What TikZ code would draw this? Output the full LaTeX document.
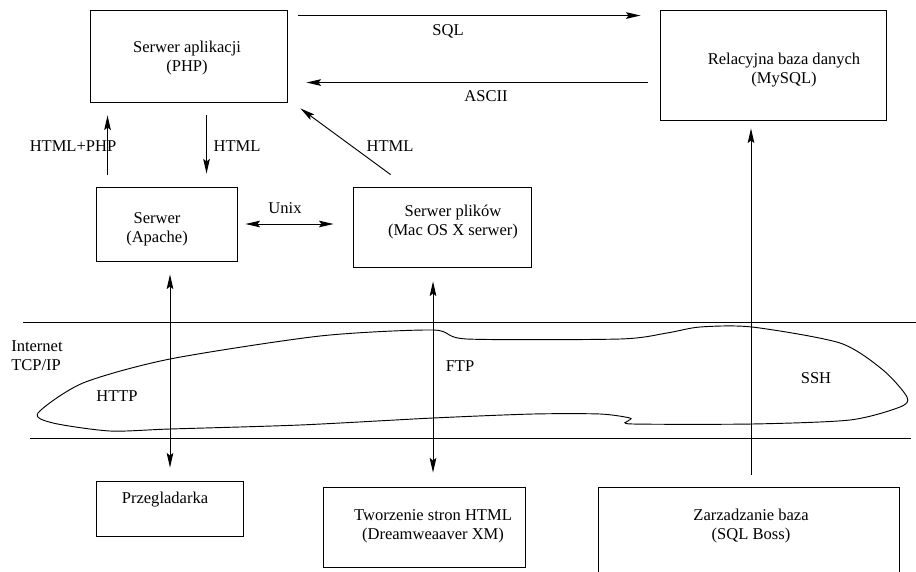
\documentclass[tikz,border=0pt]{standalone}
\usepackage{fontspec}
\setmainfont{Liberation Serif}
\usetikzlibrary{arrows.meta, calc, fit}

\tikzset{
  box/.style={draw, line width=0.7pt, inner sep=0pt},
  txt/.style={inner sep=0pt, align=center},
  lbl/.style={inner sep=0pt, align=left},
  arr/.style={line width=0.7pt, -{Stealth[length=11pt, width=5pt, inset=2pt]}},
  dbl/.style={line width=0.7pt, {Stealth[length=11pt, width=5pt, inset=2pt]}-{Stealth[length=11pt, width=5pt, inset=2pt]}},
}

\begin{document}
\begin{tikzpicture}[x=0.75pt, y=-0.75pt, font=\fontsize{12.4}{14.3}\selectfont]
\useasboundingbox (0,0) rectangle (916,571);
%Boxes
\node[box, fit={(90,10) (287,102)}] (php) {};
\node[box, fit={(660,10) (886,120)}] (mysql) {};
\node[box, fit={(96,187) (237,261)}] (apache) {};
\node[box, fit={(353,187) (531,267)}] (pliki) {};
\node[box, fit={(96,481) (243,536)}] (prz) {};
\node[box, fit={(323,487) (525,567)}] (tworz) {};
\node[box, fit={(598,487) (899,600)}] (zarz) {};
%Box text
\node[txt] (phpT) at (187,58) {Serwer aplikacji\\(PHP)};
\node[txt] (mysqlT) at (784,70) {Relacyjna baza danych\\(MySQL)};
\node[txt] (apacheT) at (157,229) {Serwer\\(Apache)};
\node[txt] (plikiT) at (453,222) {Serwer plików\\(Mac OS X serwer)};
\node[txt] (przT) at (165,500) {Przegladarka};
\node[txt] (tworzT) at (433,526) {Tworzenie stron HTML\\(Dreamweaaver XM)};
\node[txt] (zarzT) at (751,526) {Zarzadzanie baza\\(SQL Boss)};
%Internet band
\draw[line width=0.7pt] (23,322) -- (916,322);
\draw[line width=0.7pt] (30,438) -- (911,438);
\draw[line width=0.7pt] plot[smooth cycle, tension=0.45] coordinates {
  (38,413) (83,383) (170,359) (320,336) (433,330) (467,339) (620,339)
  (667,333) (700,327) (752,327) (840,343) (883,370) (907,397)
  (900,407) (850,420) (752,424) (633,424) (628,421) (630,418) (600,414)
  (533,414) (433,418) (300,425) (170,429) (110,431) (53,423)};
%Connectors
\draw[arr] ($(php.north east)+(11,6)$) -- ($(mysql.north west)+(-19,6)$);
\draw[arr] ($(mysql.north west)+(-12,73)$) -- ($(php.north east)+(19,73)$);
\draw[arr] ($(apache.north west)+(12,-12)$) -- ($(php.south west)+(18,13)$);
\draw[arr] ($(php.south west)+(117,13)$) -- ($(apache.north west)+(111,-13)$);
\draw[arr] ($(pliki.north west)+(38,-12)$) -- ($(php.south east)+(13,6)$);
\draw[dbl] ($(apache.east)+(8,0)$) -- ($(pliki.west)+(-19,-3)$);
\draw[dbl] ($(apache.south)+(3.5,13)$) -- ($(prz.north)+(0.5,-13)$);
\draw[dbl] ($(pliki.south)+(-9,14)$) -- ($(tworz.north)+(9,-14)$);
\draw[arr] ($(zarz.north)+(2.5,-12)$) -- ($(mysql.south)+(-22,8)$);
%Text
\node[txt] (sql) at (448,31) {SQL};
\node[txt] (ascii) at (486,96) {ASCII};
\node[txt] (htmlphp) at (73,146) {HTML+PHP};
\node[txt] (html1) at (237,146) {HTML};
\node[txt] (html2) at (390,146) {HTML};
\node[txt] (unix) at (285,208) {Unix};
\node[lbl, anchor=west] (inet) at (11,356) {Internet\\TCP/IP};
\node[txt] (http) at (117,396) {HTTP};
\node[txt] (ftp) at (460,366) {FTP};
\node[txt] (ssh) at (816,378) {SSH};
\end{tikzpicture}
\end{document}
